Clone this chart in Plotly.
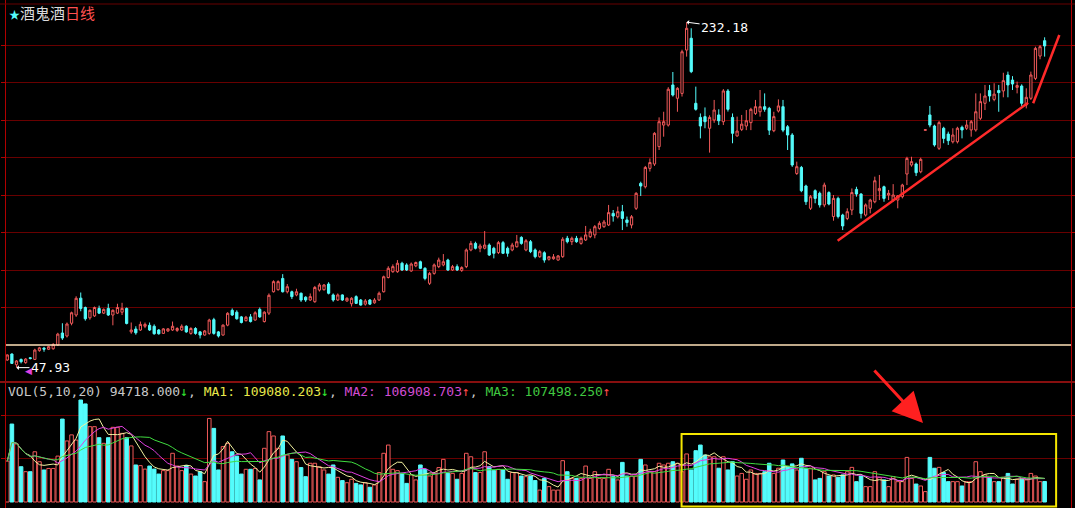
import plotly.graph_objects as go
import pandas as pd

# ---------------- data ----------------
opens = [52.0,55.2,49.5,52.3,50.6,53.2,52.3,57.0,58.3,57.7,58.0,60.0,66.4,64.8,71.6,76.0,85.0,80.0,74.5,75.5,
         79.5,77.0,79.5,76.0,77.0,77.5,79.5,67.0,68.5,68.0,70.0,70.5,70.0,68.0,66.2,67.5,68.0,67.8,68.0,70.0,
         66.2,68.8,67.0,65.3,66.2,73.5,67.0,65.3,70.6,78.5,77.5,75.0,73.0,75.0,73.3,79.0,72.5,77.0,
         88.4,89.5,95.5,88.4,88.4,86.7,87.6,85.5,84.0,83.1,89.3,89.5,92.5,86.7,84.0,86.7,83.5,82.0,85.8,84.0,
         81.8,84.0,82.5,84.0,88.4,96.0,99.1,99.1,103.6,102.7,99.5,102.2,104.4,100.9,92.9,98.2,101.8,102.7,105.3,100.0,
         101.8,99.8,101.8,110.7,114.2,111.6,111.6,113.3,111.6,109.3,114.6,111.6,110.7,112.4,117.4,110.7,115.1,110.7,
         107.1,109.2,105.7,106.0,105.3,107.1,116.9,115.1,116.9,114.2,116.0,117.8,118.7,122.2,123.1,124.0,130.2,128.4,
         131.1,126.7,124.0,132.9,146.2,144.4,154.2,156.5,165.8,177.3,177.3,198.7,191.6,194.2,217.3,223.6,188.9,181.4,
         181.8,175.6,180.0,182.7,179.1,195.5,181.4,171.5,175.0,176.8,178.6,183.5,184.4,187.1,186.2,174.3,184.8,187.1,
         176.4,172.0,151.5,
         154.7,144.8,132.9,142.3,140.9,134.7,141.3,128.5,138.2,129.3,127.5,132.0,143.0,140.5,129.3,132.9,136.4,142.3,
         144.4,140.0,137.3,137.3,139.1,151.2,156.0,156.5,152.4,174.5,182.7,176.8,164.9,175.6,172.5,168.4,168.4,176.1,
         175.6,174.7,174.7,180.9,188.9,195.7,191.0,195.7,195.5,204.0,201.3,197.4,198.1,188.0,191.6,202.2,214.1,222.3]
highs = [55.0,55.5,52.0,52.8,53.0,53.5,58.0,59.0,59.0,59.5,61.0,66.5,71.6,72.0,77.8,86.0,88.0,80.5,79.0,80.5,
         81.0,79.5,82.0,79.0,82.0,82.5,80.0,72.0,70.0,72.5,72.0,72.0,71.0,68.5,69.0,69.0,72.5,69.5,71.0,70.5,
         69.5,69.5,67.5,68.0,74.0,74.5,67.5,71.0,77.5,79.5,78.5,75.5,75.5,76.5,78.0,80.0,78.0,87.5,
         94.5,94.5,97.8,92.5,89.0,90.0,88.0,86.0,87.5,91.5,93.0,92.5,93.5,87.5,87.5,87.0,85.5,85.5,86.5,84.5,
         84.5,84.5,85.0,88.5,97.0,102.0,103.0,105.3,104.4,103.6,104.0,104.5,105.0,101.5,99.0,103.5,106.6,108.5,106.0,102.7,
         103.0,102.0,111.5,115.5,115.1,114.0,120.8,114.2,112.4,115.5,115.5,112.5,114.5,118.7,118.0,116.5,116.0,111.5,
         110.7,110.0,107.5,108.5,108.0,117.5,118.2,117.8,118.2,117.8,123.5,122.0,124.0,126.0,126.7,134.7,132.0,133.8,
         134.7,128.5,129.3,141.5,147.1,155.5,159.5,173.5,181.4,184.4,197.5,205.6,197.5,217.5,232.18,228.9,197.8,183.5,
         186.7,182.5,190.7,185.7,196.5,196.5,183.5,181.8,182.7,185.3,186.5,190.7,196.0,194.2,187.0,184.4,191.0,190.7,
         177.3,173.0,157.8,
         155.5,145.5,140.0,143.0,141.8,146.6,142.0,140.0,139.1,130.0,132.9,143.5,144.4,141.0,135.5,138.0,149.8,150.7,
         145.0,142.7,145.8,140.0,146.0,160.4,160.4,157.3,159.9,175.0,187.5,177.5,179.5,176.4,173.8,175.6,176.4,177.0,
         180.0,180.0,194.2,194.2,198.7,198.7,199.6,198.7,205.2,205.8,203.4,200.5,199.0,196.9,205.8,219.1,220.0,224.1]
lows = [51.6,50.0,47.93,50.2,50.0,52.3,52.0,56.4,56.4,57.3,57.5,59.5,62.7,64.0,70.5,75.0,78.0,73.0,73.5,75.0,
        76.5,76.5,75.5,70.5,76.5,76.0,71.0,66.0,65.5,67.5,69.0,67.5,65.5,65.5,66.0,67.0,67.5,67.0,67.5,66.5,
        65.5,65.5,63.5,65.0,65.5,65.5,64.0,65.0,70.0,75.5,73.5,71.5,72.5,72.0,73.0,74.5,72.0,76.0,
        88.0,89.0,88.0,87.5,84.5,86.0,83.0,83.0,83.5,82.5,88.5,89.0,87.0,83.1,83.5,83.5,83.0,80.5,82.0,81.0,
        81.0,81.3,82.0,83.5,88.0,95.5,98.5,98.5,99.5,99.5,99.0,101.5,100.5,94.5,92.0,97.5,101.0,102.0,99.5,99.5,
        99.5,99.0,101.0,110.0,111.0,109.5,111.0,107.5,106.2,108.5,108.5,107.1,110.0,112.0,113.5,110.0,109.0,106.2,
        106.5,103.9,105.0,105.5,105.0,106.5,114.2,113.3,114.5,113.5,115.5,117.0,116.9,121.5,122.5,123.5,125.8,127.5,
        121.3,123.1,122.2,132.0,139.5,143.5,152.5,155.5,164.0,171.1,176.5,192.5,184.4,192.5,213.8,205.0,185.0,170.2,
        175.6,162.6,178.5,177.3,177.3,184.5,167.6,171.1,174.1,174.6,174.6,182.7,181.8,184.4,172.0,173.5,184.0,173.5,
        164.0,155.0,150.7,
        141.5,134.7,132.0,135.6,133.3,133.5,134.5,126.3,127.5,121.3,126.6,129.3,139.1,127.5,128.5,130.2,135.6,137.3,
        136.4,137.3,136.4,132.9,138.2,145.3,155.1,150.1,151.6,174.3,176.1,165.8,164.0,167.6,166.7,167.5,167.5,170.2,
        174.7,171.1,173.8,180.0,185.3,189.8,190.0,184.4,192.1,192.1,196.0,194.2,187.5,186.2,190.7,201.3,212.4,213.8]
closes = [54.7,50.2,51.5,51.1,52.5,52.8,57.3,58.5,57.8,59.1,60.3,65.8,63.7,71.2,77.2,84.9,79.5,74.0,78.5,80.0,
          77.0,79.0,76.0,78.5,80.0,79.5,71.5,68.0,66.5,71.0,71.0,68.0,66.0,66.0,68.6,68.6,70.0,68.8,70.0,67.0,
          68.8,66.2,65.3,67.5,73.3,66.2,64.8,70.6,76.9,76.0,74.0,72.0,74.8,72.5,77.2,75.0,77.5,86.5,
          93.8,93.8,88.4,91.1,85.8,88.4,84.0,84.0,85.8,90.7,92.0,92.0,87.6,84.0,86.7,84.0,84.9,84.9,82.2,81.3,
          83.5,81.8,84.0,87.6,96.4,100.9,101.8,103.6,100.0,100.0,103.2,104.0,100.9,95.5,98.2,102.7,105.3,104.4,100.0,101.8,
          100.0,101.3,110.7,114.2,111.6,112.8,113.3,108.0,108.9,114.6,108.9,108.9,113.3,115.1,114.2,115.6,109.8,107.1,
          109.8,105.3,107.1,107.0,107.5,116.4,115.1,116.9,115.1,116.9,118.7,120.4,123.1,124.9,125.6,130.6,128.8,131.1,
          127.5,125.3,128.4,140.9,144.8,154.7,157.3,172.9,179.1,179.1,196.4,193.3,196.9,216.4,228.9,205.8,185.7,176.8,
          179.1,181.4,185.3,179.6,195.5,185.7,172.9,174.1,177.8,179.6,185.7,187.1,187.1,185.7,174.6,181.8,187.5,174.6,
          172.0,156.0,155.1,
          142.3,136.4,139.1,138.2,134.7,145.3,135.2,138.2,128.5,123.5,131.1,141.3,140.5,130.2,134.7,137.3,147.6,143.5,
          138.2,140.9,140.0,139.5,145.3,159.5,157.8,151.9,159.0,174.8,177.3,166.7,178.6,170.2,169.0,172.0,175.6,174.7,
          177.3,179.1,184.4,189.8,192.8,192.8,193.8,194.6,201.0,198.7,199.2,198.4,188.9,192.1,204.0,218.2,219.1,219.5]
vol_k = [189,360,268,163,140,140,232,186,148,155,155,212,383,282,310,286,471,453,348,348,
         297,271,297,345,345,317,297,259,171,168,152,166,152,129,145,145,225,166,145,169,
         129,120,140,94,386,340,148,256,271,232,212,129,151,151,155,102,248,325,
         305,248,305,217,197,186,159,117,179,179,163,148,129,171,114,99,89,105,86,79,
         89,68,79,136,225,263,151,145,132,86,125,102,171,151,120,132,159,197,132,132,
         105,132,225,209,136,136,232,163,145,151,148,105,136,136,120,117,120,99,
         55,109,71,55,55,191,140,109,109,109,166,109,140,109,109,151,117,102,183,120,
         120,120,197,171,140,140,179,171,179,186,179,140,222,148,237,263,217,209,209,156,
         209,148,186,120,132,105,148,132,132,140,179,132,156,194,163,176,148,
         202,156,156,102,109,140,120,125,114,125,140,160,94,120,71,71,140,114,102,71,
         117,94,94,206,109,83,74,48,206,156,160,136,94,94,94,74,94,94,186,140,
         125,114,94,94,114,132,83,105,105,102,132,120,94,94.718]

legend_vals = {"VOL": "94718.000", "MA1": "109080.203", "MA2": "106908.703", "MA3": "107498.250"}
price_grid = [80, 100, 120, 140, 160, 180, 200, 220]
ref_price = 60
vol_grid = [200000, 400000]
peak_label = (148, 232.18)
low_label = (2, 47.93)
trend1 = [(180.9, 115.6), (222.4, 189.2)]
trend2 = [(223.5, 188.9), (229.2, 225.3)]
box_x = (146.9, 228.5)
box_v = (-20800, 314000)

# ---------------- build ----------------
n = len(closes)
idx = list(range(n))
volumes = [v * 1000 for v in vol_k]
highs = [max(h, o, c) for h, o, c in zip(highs, opens, closes)]
lows = [min(l, o, c) for l, o, c in zip(lows, opens, closes)]

RED = "#f05a5a"
CYAN = "#54fcfc"
GRID = "#680000"
AX = "#b00000"

vs = pd.Series(volumes)
ma5 = vs.rolling(5, min_periods=1).mean()
ma10 = vs.rolling(10, min_periods=1).mean()
ma20 = vs.rolling(20, min_periods=1).mean()

up = [c >= o for o, c in zip(opens, closes)]

fig = go.Figure()
fig.add_trace(go.Candlestick(
    x=idx, open=opens, high=highs, low=lows, close=closes,
    increasing=dict(line=dict(color=RED, width=1), fillcolor="#000000"),
    decreasing=dict(line=dict(color=CYAN, width=1), fillcolor=CYAN),
    xaxis="x", yaxis="y", hoverinfo="skip"))
fig.add_trace(go.Bar(
    x=idx, y=volumes, width=0.78,
    marker=dict(color=["#000000" if u else CYAN for u in up],
                line=dict(color=[RED if u else CYAN for u in up], width=1)),
    xaxis="x", yaxis="y2", hoverinfo="skip"))
for s, col in [(ma5, "#f2f2a0"), (ma10, "#e040e0"), (ma20, "#40dc40")]:
    fig.add_trace(go.Scatter(x=idx, y=s, mode="lines", line=dict(color=col, width=1),
                             xaxis="x", yaxis="y2", hoverinfo="skip"))

W, H = 1075, 508
ML, MR = 6, 4
def px_x(px):
    return (px - ML) / (W - ML - MR)
def px_y(py):
    return 1 - py / H

# axis ranges from pixel geometry
x0_idx = (ML - 7.3) / 4.59
x1_idx = (W - MR - 7.3) / 4.59
p_per_px = 20 / 37.5
price_top = 220 + 45 * p_per_px
price_bot = 220 - (381 - 45) * p_per_px
v_per_px = 200000 / 43.3
vol_top = (502 - 383) * v_per_px
vol_bot = (502 - 508) * v_per_px

axis_common = dict(showticklabels=False, showgrid=True, gridcolor=GRID, gridwidth=1,
                   zeroline=False, showline=True, linecolor=AX, linewidth=1, mirror="ticks",
                   ticks="outside", ticklen=4, tickcolor=AX, fixedrange=True)

fig.update_layout(
    width=W, height=H, margin=dict(l=ML, r=MR, t=0, b=0),
    paper_bgcolor="#000000", plot_bgcolor="#000000", showlegend=False,
    xaxis=dict(range=[x0_idx, x1_idx], visible=False, rangeslider=dict(visible=False), fixedrange=True),
    yaxis=dict(domain=[px_y(381), 1], range=[price_bot, price_top], tickvals=price_grid, **axis_common),
    yaxis2=dict(domain=[0, px_y(383)], range=[vol_bot, vol_top], tickvals=vol_grid, **axis_common),
    bargap=0.3,
)

shapes = []
# reference (cream) line
shapes.append(dict(type="line", xref="paper", yref="y", x0=0, x1=1, y0=ref_price, y1=ref_price,
                   line=dict(color="#ffe2b8", width=1.5)))
# panel separator and top line
shapes.append(dict(type="line", xref="paper", yref="paper", x0=px_x(0), x1=px_x(W), y0=px_y(382), y1=px_y(382),
                   line=dict(color="#b41414", width=1.5)))
shapes.append(dict(type="line", xref="paper", yref="paper", x0=px_x(0), x1=px_x(W), y0=px_y(4), y1=px_y(4),
                   line=dict(color=GRID, width=1)))
# trend lines
for (a, b) in [trend1, trend2]:
    shapes.append(dict(type="line", xref="x", yref="y", x0=a[0], y0=a[1], x1=b[0], y1=b[1],
                       line=dict(color="#ff2a2a", width=2.5)))
# yellow box
shapes.append(dict(type="rect", xref="x", yref="y2", x0=box_x[0], x1=box_x[1], y0=box_v[0], y1=box_v[1],
                   line=dict(color="#f5e600", width=2), fillcolor="rgba(0,0,0,0)"))
fig.update_layout(shapes=shapes)

MONO = "DejaVu Sans Mono"
gray = "#c8c8c8"
down_c = "#30e030"
up_c = "#ff4848"
legend = (f"<span style='color:{gray}'>VOL(5,10,20) {legend_vals['VOL']}</span>"
          f"<span style='color:{down_c}'>↓</span><span style='color:{gray}'>, </span>"
          f"<span style='color:#e8e84a'>MA1: {legend_vals['MA1']}</span>"
          f"<span style='color:{down_c}'>↓</span><span style='color:{gray}'>, </span>"
          f"<span style='color:#d24cd2'>MA2: {legend_vals['MA2']}</span>"
          f"<span style='color:{up_c}'>↑</span><span style='color:{gray}'>, </span>"
          f"<span style='color:#40c840'>MA3: {legend_vals['MA3']}</span>"
          f"<span style='color:{up_c}'>↑</span>")

annotations = [
    dict(xref="paper", yref="paper", x=px_x(6), y=px_y(391), xanchor="left", yanchor="middle",
         text=legend, showarrow=False, font=dict(family=MONO, size=13, color=gray)),
    dict(xref="paper", yref="paper", x=px_x(7), y=px_y(13), xanchor="left", yanchor="middle",
         text=("<span style='color:#54fcfc;font-size:11px'>★</span>"
               "<span style='color:#dcdcdc'>酒鬼酒</span><span style='color:#ff5050'>日线</span>"),
         showarrow=False, font=dict(family="Noto Sans CJK SC", size=15, color="#dcdcdc")),
    dict(x=peak_label[0], y=peak_label[1], xref="x", yref="y", text=f"{peak_label[1]:.2f}",
         showarrow=True, ax=38, ay=5, arrowhead=1, arrowsize=0.8, arrowwidth=1, arrowcolor="#ffffff",
         font=dict(family=MONO, size=13, color="#ffffff")),
    dict(x=low_label[0], y=low_label[1], xref="x", yref="y", text=f"{low_label[1]:.2f}",
         showarrow=True, ax=34, ay=0, arrowhead=1, arrowsize=0.8, arrowwidth=1, arrowcolor="#ffffff",
         font=dict(family=MONO, size=13, color="#ffffff")),
    dict(xref="paper", yref="paper", x=px_x(23), y=px_y(378), text="◀", showarrow=False,
         font=dict(family="DejaVu Sans", size=9, color="#e040e0")),
    dict(xref="paper", yref="paper", x=px_x(923), y=px_y(423), text="", showarrow=True,
         ax=-50, ay=-54, arrowhead=2, arrowsize=2.0, arrowwidth=3, arrowcolor="#ff2020"),
]
fig.update_layout(annotations=annotations)

fig.write_html("out.html")
